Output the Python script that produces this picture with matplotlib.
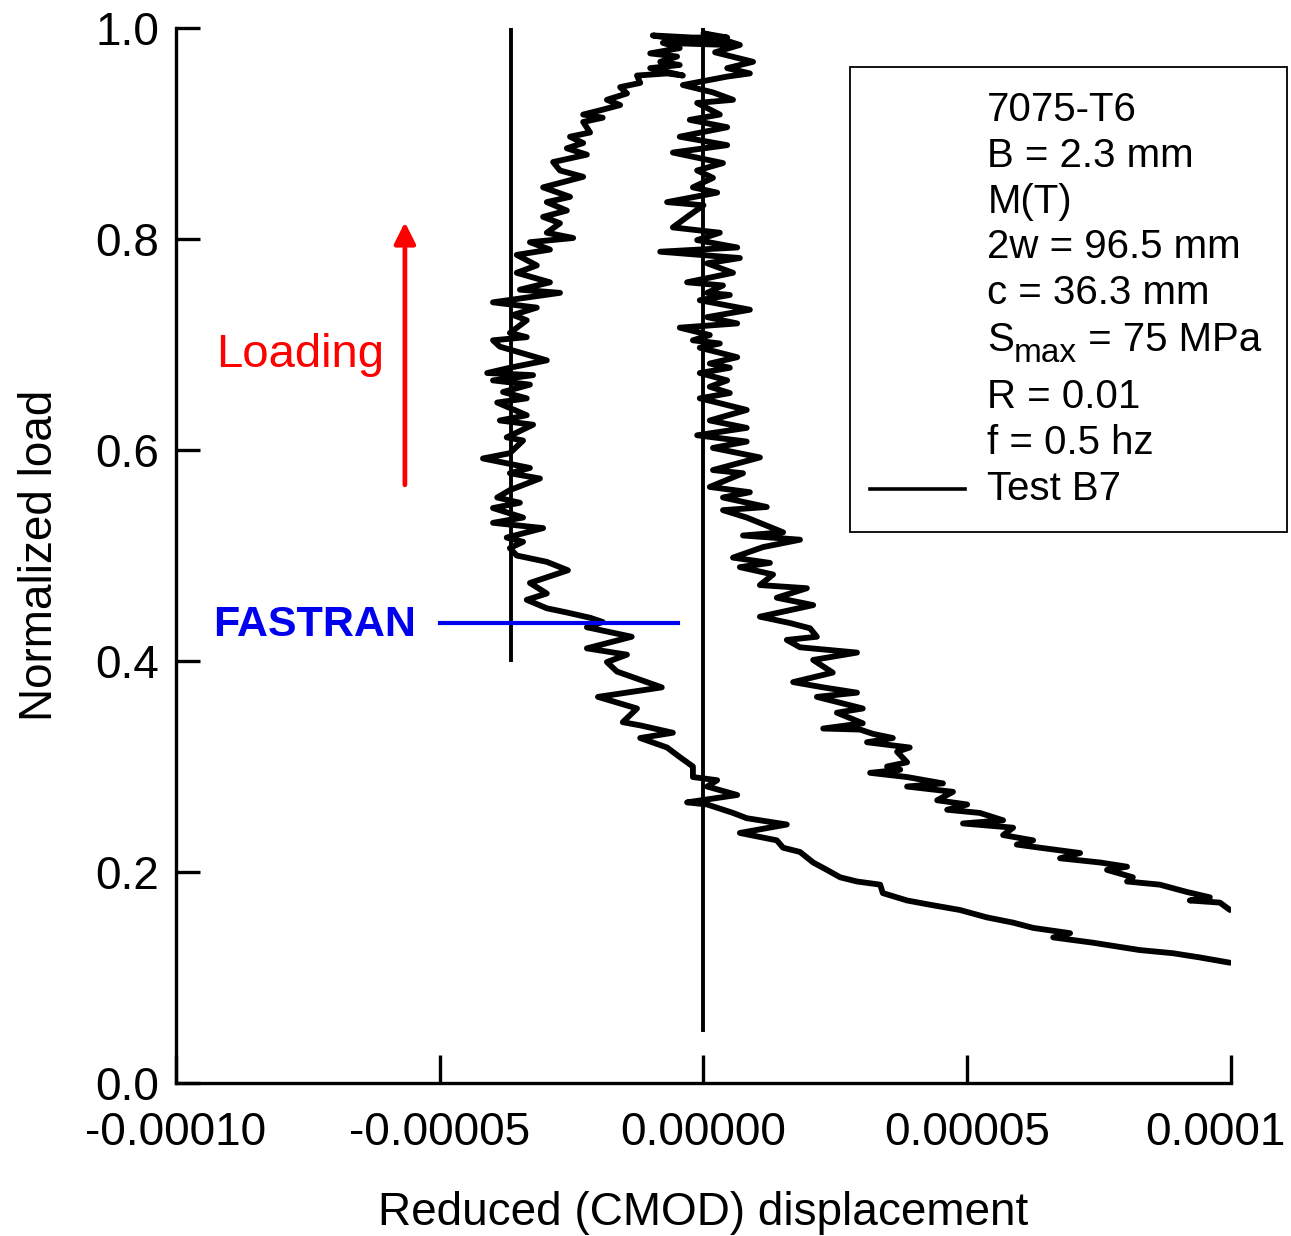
import numpy as np
import matplotlib
matplotlib.use("Agg")
import matplotlib.pyplot as plt
from matplotlib.patches import Rectangle
from matplotlib.lines import Line2D
from matplotlib.transforms import ScaledTranslation

plt.rcParams['font.family'] = ['Liberation Sans', 'DejaVu Sans']

# ---- data (x in units of 1e-5) ----
# measured loop, traced from lower-right end, up the left branch, over the top, down the right branch
test_b7_x = [
    9.98, 9.41, 8.90, 8.27, 7.38, 6.63, 6.95, 6.25, 5.87, 5.37, 4.86, 4.29, 3.86, 3.40, 3.35, 2.91,
    2.59, 2.34, 2.08, 1.83, 1.51, 1.39, 0.69, 1.58, 0.82, 0.56, 0.07, -0.31, 0.64, 0.07, 0.26, -0.20,
    -0.20, -0.45, -0.69, -1.20, -0.58, -1.20, -1.53, -1.26, -2.00, -0.79, -1.64, -1.83, -1.45, -2.21,
    -1.36, -2.21, -1.91, -2.15, -2.59, -2.97, -3.35, -2.97, -3.29, -2.57, -2.97, -3.54, -3.67, -3.42,
    -3.73, -3.04, -3.99, -3.42, -3.99, -3.48, -3.91, -3.67, -3.10, -3.67, -3.29, -4.18, -3.67, -3.42,
    -3.73, -3.23, -3.86, -3.35, -3.91, -3.35, -3.80, -3.29, -3.99, -3.23, -4.10, -3.67, -2.97, -3.86,
    -3.99, -3.35, -3.67, -3.35, -3.61, -3.16, -3.99, -2.72, -3.48, -2.91, -3.54, -3.16, -3.54, -2.91,
    -3.29, -2.47, -2.97, -2.72, -3.04, -2.59, -2.97, -2.53, -3.04, -2.28, -2.72, -2.85, -2.21, -2.59,
    -2.28, -2.53, -2.15, -2.28, -1.91, -2.28, -1.96, -1.58, -1.83, -1.45, -1.58, -1.20, -1.26, -0.69,
    -0.39, -1.01, -0.45, -0.82, -0.50, -1.01, -0.45, -0.77, 0.45, -0.45, -0.96, -0.20, 0.45, 0.00,
    0.69, 0.22, 0.94, 0.45, 0.88, 0.45, -0.39, 0.18, 0.56, -0.12, 0.31, -0.26, 0.45, -0.45, 0.45,
    -0.58, 0.37, -0.12, 0.18, -0.20, 0.26, -0.69, 0.00, -0.31, -0.58, 0.31, -0.12, 0.64, -0.82, 0.69,
    0.07, 0.56, -0.31, 0.37, 0.07, 0.50, -0.07, 0.88, 0.07, 0.64, -0.45, 0.12, -0.20, 0.31, -0.07,
    0.64, 0.12, 0.50, -0.07, 0.45, 0.12, 0.50, -0.07, 0.26, 0.82, 0.12, 0.82, -0.12, 0.82, 0.18,
    1.07, 0.18, 0.75, 0.12, 0.88, 0.37, 1.20, 0.37, 0.82, 1.51, 0.75, 1.83, 1.13, 0.56, 1.26, 0.69,
    1.32, 1.07, 1.96, 1.39, 2.08, 1.07, 1.64, 2.02, 2.15, 1.58, 1.83, 2.91, 2.08, 2.45, 1.70, 2.27,
    2.91, 2.15, 3.02, 2.53, 3.02, 2.27, 2.97, 3.21, 3.59, 3.10, 3.91, 3.67, 3.86, 3.48, 3.73, 3.16,
    3.86, 4.54, 3.86, 4.73, 4.43, 5.00, 4.62, 5.24, 5.68, 4.92, 5.87, 5.68, 6.25, 5.94, 6.38, 7.14,
    6.76, 7.52, 8.03, 7.65, 8.14, 8.03, 8.65, 9.17, 9.60, 9.22, 9.79, 9.98,
]
test_b7_y = [
    0.114, 0.119, 0.123, 0.126, 0.133, 0.138, 0.142, 0.147, 0.152, 0.157, 0.164, 0.169, 0.173, 0.180, 0.188, 0.191,
    0.195, 0.202, 0.209, 0.219, 0.223, 0.230, 0.237, 0.245, 0.251, 0.256, 0.264, 0.266, 0.273, 0.281, 0.287, 0.290,
    0.300, 0.309, 0.318, 0.327, 0.332, 0.339, 0.342, 0.355, 0.366, 0.375, 0.390, 0.399, 0.406, 0.412,
    0.423, 0.432, 0.437, 0.441, 0.446, 0.450, 0.458, 0.464, 0.474, 0.486, 0.494, 0.500, 0.507, 0.513,
    0.517, 0.526, 0.531, 0.536, 0.545, 0.550, 0.555, 0.562, 0.573, 0.578, 0.583, 0.592, 0.597, 0.609,
    0.612, 0.624, 0.628, 0.633, 0.645, 0.649, 0.655, 0.662, 0.666, 0.671, 0.673, 0.678, 0.685, 0.698,
    0.704, 0.707, 0.711, 0.723, 0.728, 0.735, 0.740, 0.749, 0.752, 0.759, 0.768, 0.775, 0.785, 0.790,
    0.797, 0.801, 0.806, 0.815, 0.821, 0.827, 0.835, 0.840, 0.849, 0.859, 0.865, 0.873, 0.880, 0.886,
    0.891, 0.897, 0.901, 0.911, 0.915, 0.918, 0.922, 0.927, 0.932, 0.938, 0.944, 0.948, 0.955, 0.957,
    0.955, 0.962, 0.965, 0.968, 0.973, 0.976, 0.981, 0.986, 0.984, 0.989, 0.993, 0.991, 0.991, 0.995,
    0.984, 0.977, 0.968, 0.962, 0.957, 0.954, 0.946, 0.939, 0.932, 0.929, 0.918, 0.913, 0.906, 0.897, 0.889,
    0.882, 0.872, 0.865, 0.858, 0.849, 0.844, 0.835, 0.832, 0.821, 0.811, 0.806, 0.799, 0.792, 0.788, 0.782,
    0.777, 0.768, 0.759, 0.756, 0.749, 0.747, 0.742, 0.733, 0.726, 0.720, 0.716, 0.709, 0.704, 0.701, 0.697,
    0.688, 0.682, 0.678, 0.673, 0.666, 0.660, 0.654, 0.649, 0.645, 0.638, 0.628, 0.621, 0.614, 0.608, 0.602,
    0.593, 0.581, 0.578, 0.565, 0.560, 0.555, 0.546, 0.543, 0.536, 0.522, 0.519, 0.515, 0.508, 0.498, 0.493, 0.489,
    0.482, 0.472, 0.469, 0.460, 0.453, 0.442, 0.436, 0.431, 0.423, 0.420, 0.413, 0.408, 0.401, 0.389, 0.380, 0.375,
    0.370, 0.366, 0.355, 0.351, 0.341, 0.336, 0.335, 0.331, 0.327, 0.323, 0.318, 0.314, 0.304, 0.300, 0.297, 0.294,
    0.290, 0.284, 0.281, 0.276, 0.268, 0.264, 0.259, 0.256, 0.249, 0.246, 0.242, 0.235, 0.230, 0.226, 0.223, 0.218,
    0.213, 0.209, 0.205, 0.202, 0.195, 0.191, 0.188, 0.181, 0.176, 0.173, 0.171, 0.164,
]

# reference vertical lines (x in 1e-5, y range)
vline_x = [-3.65, 0.0]
vline_ymin = [0.401, 0.050]
vline_ymax = [1.0, 1.0]

# FASTRAN level
fastran_load = 0.436
fastran_x = [-5.0, -0.48]

# loading arrow
arrow_x = -5.66
arrow_y = [0.567, 0.816]

x_ticks = [-10, -5, 0, 5, 10]
x_tick_labels = ["-0.00010", "-0.00005", "0.00000", "0.00005", "0.0001"]
y_ticks = [0.0, 0.2, 0.4, 0.6, 0.8, 1.0]
y_tick_labels = ["0.0", "0.2", "0.4", "0.6", "0.8", "1.0"]

legend_lines = ["7075-T6", "B = 2.3 mm", "M(T)", "2w = 96.5 mm", "c = 36.3 mm",
                None, "R = 0.01", "f = 0.5 hz"]
smax_parts = ["S", "max", " = 75 MPa"]
legend_label = "Test B7"

scale = 1e-5
FS = 33
LFS = 29

fig = plt.figure(figsize=(12.91, 12.36), dpi=100)
ax = fig.add_axes([0.1363, 0.1238, 0.8172, 0.8535])

xs = np.array(test_b7_x) * scale
ys = np.array(test_b7_y)
ax.plot(xs, ys, color='black', lw=4.2, solid_joinstyle='round', solid_capstyle='round', zorder=3)

for vx, y0, y1 in zip(vline_x, vline_ymin, vline_ymax):
    ax.plot([vx * scale, vx * scale], [y0, y1], color='black', lw=2.8, zorder=2)

ax.plot(np.array(fastran_x) * scale, [fastran_load, fastran_load], color='#0000ee', lw=3.0, zorder=4)

ax.annotate('', xy=(arrow_x * scale, arrow_y[1]), xytext=(arrow_x * scale, arrow_y[0]),
            arrowprops=dict(arrowstyle='-|>', color='#ff0000', lw=3.4, mutation_scale=32,
                            shrinkA=0, shrinkB=0))
ax.text(-7.65 * scale, 0.690, "Loading", color='#ff0000', fontsize=34, ha='center', va='center')
ax.text(-9.30 * scale, 0.434, "FASTRAN", color='#0000ee', fontsize=31, fontweight='bold',
        ha='left', va='center')

ax.set_xlim(-10 * scale, 10 * scale)
ax.set_ylim(0, 1.0)
ax.set_xticks(np.array(x_ticks) * scale)
ax.set_xticklabels(x_tick_labels)
ax.set_yticks(y_ticks)
ax.set_yticklabels(y_tick_labels)

for s in ['top', 'right']:
    ax.spines[s].set_visible(False)
for s in ['left', 'bottom']:
    ax.spines[s].set_linewidth(2.4)

ax.tick_params(axis='x', direction='in', length=20, width=2.4, labelsize=FS, pad=20)
ax.tick_params(axis='y', direction='in', length=17, width=2.4, labelsize=FS, pad=12)

# last x tick label sits a bit left (as in the reference, it is not cut at the edge)
last_lbl = ax.get_xticklabels()[-1]
last_lbl.set_transform(last_lbl.get_transform() + ScaledTranslation(-16 / 100, 0, fig.dpi_scale_trans))

ax.set_xlabel("Reduced (CMOD) displacement", fontsize=FS, labelpad=26)
ax.set_ylabel("Normalized load", fontsize=FS, labelpad=24)

# legend / annotation box
box = Rectangle((0.639, 0.522), 0.414, 0.441, transform=ax.transAxes, fill=False,
                edgecolor='black', lw=1.3, clip_on=False, zorder=5)
ax.add_patch(box)
line_y = [0.922, 0.879, 0.835, 0.792, 0.749, 0.704, 0.650, 0.607]
for txt, yy in zip(legend_lines, line_y):
    if txt is None:
        t1 = ax.text(0.769, yy, smax_parts[0], transform=ax.transAxes, fontsize=LFS,
                     ha='left', va='center', clip_on=False)
        t2 = ax.annotate(smax_parts[1], xy=(1, 0), xycoords=t1, xytext=(0, -7),
                         textcoords='offset points', fontsize=24, ha='left', va='bottom',
                         annotation_clip=False)
        ax.annotate(smax_parts[2], xy=(1, 0), xycoords=(t2, t1), fontsize=LFS,
                    ha='left', va='bottom', annotation_clip=False)
    else:
        ax.text(0.769, yy, txt, transform=ax.transAxes, fontsize=LFS, ha='left', va='center',
                clip_on=False)
ax.add_line(Line2D([0.658, 0.748], [0.563, 0.563], transform=ax.transAxes, color='black',
                   lw=2.6, clip_on=False))
ax.text(0.769, 0.563, legend_label, transform=ax.transAxes, fontsize=LFS, ha='left', va='center',
        clip_on=False)

fig.savefig("out.png", dpi=100)
